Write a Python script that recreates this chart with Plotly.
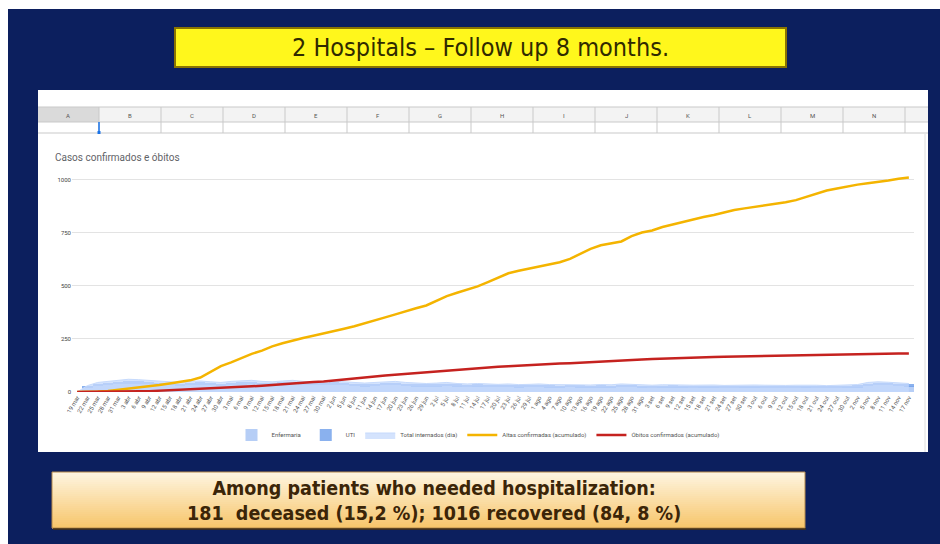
import plotly.graph_objects as go

# ---------------- data ----------------
dates = [
    "19 mar", "22 mar", "25 mar", "28 mar", "31 mar",
    "3 abr", "6 abr", "9 abr", "12 abr", "15 abr", "18 abr", "21 abr", "24 abr", "27 abr", "30 abr",
    "3 mai", "6 mai", "9 mai", "12 mai", "15 mai", "18 mai", "21 mai", "24 mai", "27 mai", "30 mai",
    "2 jun", "5 jun", "8 jun", "11 jun", "14 jun", "17 jun", "20 jun", "23 jun", "26 jun", "29 jun",
    "2 jul", "5 jul", "8 jul", "11 jul", "14 jul", "17 jul", "20 jul", "23 jul", "26 jul", "29 jul",
    "1 ago", "4 ago", "7 ago", "10 ago", "13 ago", "16 ago", "19 ago", "22 ago", "25 ago", "28 ago", "31 ago",
    "3 set", "6 set", "9 set", "12 set", "15 set", "18 set", "21 set", "24 set", "27 set", "30 set",
    "3 out", "6 out", "9 out", "12 out", "15 out", "18 out", "21 out", "24 out", "27 out", "30 out",
    "2 nov", "5 nov", "8 nov", "11 nov", "14 nov", "17 nov",
]

altas = [0, 0, 2, 5, 10, 15, 22, 28, 33, 40,
         48, 55, 68, 95, 122, 140, 160, 180, 195, 215,
         230, 243, 255, 265, 275, 285, 298, 310, 325, 338,
         352, 366, 382, 395, 408, 430, 452, 468, 482, 498,
         518, 540, 560, 572, 582, 590, 600, 612, 628, 650,
         675, 692, 700, 710, 735, 752, 762, 778, 790, 802,
         815, 825, 835, 848, 858, 866, 873, 880, 888, 895,
         905, 920, 938, 950, 960, 970, 978, 985, 990, 998,
         1006, 1012]

obitos = [0, 0, 0, 0, 1, 2, 3, 4, 6, 8,
          10, 12, 14, 16, 18, 21, 24, 27, 30, 34,
          38, 41, 44, 47, 50, 54, 58, 63, 68, 73,
          78, 82, 86, 90, 94, 98, 102, 106, 110, 113,
          116, 119, 122, 125, 127, 130, 132, 134, 136, 138,
          140, 142, 144, 147, 150, 153, 156, 158, 160, 161,
          162, 164, 165, 166, 167, 168, 170, 171, 172, 173,
          174, 174, 175, 176, 177, 177, 178, 178, 179, 180,
          181, 181]

total_internados = [0, 30, 45, 50, 55, 60, 58, 55, 50, 48,
                    45, 50, 52, 48, 45, 50, 52, 55, 50, 48,
                    52, 55, 50, 48, 50, 52, 48, 45, 42, 45,
                    48, 50, 45, 42, 40, 42, 45, 40, 38, 40,
                    38, 36, 38, 35, 36, 38, 35, 34, 36, 35,
                    33, 35, 34, 38, 36, 33, 32, 34, 35, 33,
                    32, 34, 33, 31, 32, 34, 33, 32, 30, 31,
                    32, 33, 32, 30, 31, 33, 35, 45, 48, 46,
                    44, 40]

enfermaria = [0, 20, 30, 33, 36, 40, 38, 36, 33, 32,
              30, 33, 34, 32, 30, 33, 34, 36, 33, 32,
              34, 36, 33, 32, 33, 34, 32, 30, 28, 30,
              32, 33, 30, 28, 27, 28, 30, 27, 25, 27,
              25, 24, 25, 23, 24, 25, 23, 23, 24, 23,
              22, 23, 23, 25, 24, 22, 21, 23, 23, 22,
              21, 23, 22, 21, 21, 23, 22, 21, 20, 21,
              21, 22, 21, 20, 21, 22, 23, 30, 32, 31,
              29, 27]

uti = [0, 6, 10, 11, 12, 13, 13, 12, 11, 10,
       10, 11, 11, 10, 10, 11, 11, 12, 11, 10,
       11, 12, 11, 10, 11, 11, 10, 10, 9, 10,
       10, 11, 10, 9, 9, 9, 10, 9, 8, 9,
       8, 8, 8, 8, 8, 8, 8, 7, 8, 8,
       7, 8, 7, 8, 8, 7, 7, 7, 8, 7,
       7, 7, 7, 7, 7, 7, 7, 7, 6, 7,
       7, 7, 7, 6, 7, 7, 8, 10, 11, 10,
       10, 9]

y_ticks = [0, 250, 500, 750, 1000]
col_letters = ["A", "B", "C", "D", "E", "F", "G", "H", "I", "J", "K", "L", "M", "N"]

title_text = "2 Hospitals \u2013 Follow up 8 months."
chart_title = "Casos confirmados e \u00f3bitos"
summary_lines = ["Among patients who needed hospitalization:",
                 "181  deceased (15,2 %); 1016 recovered (84, 8 %)"]

# ---------------- geometry helpers ----------------
W, H = 940, 544
L, R, T, B = 72, 914, 170, 392


def xp(px):
    return (px - L) / (R - L)


def yp(py):
    return (B - py) / (B - T)


NAVY = "#0c1f5e"

fig = go.Figure()

fig.add_trace(go.Bar(
    x=dates, y=enfermaria, marker=dict(color="#a4c2f4", line=dict(width=0)),
    name="Enfermaria", opacity=0.8, legendrank=1))
fig.add_trace(go.Bar(
    x=dates, y=uti, marker=dict(color="#6d9eeb", line=dict(width=0)),
    name="UTI", opacity=0.8, legendrank=2))
fig.add_trace(go.Scatter(
    x=dates, y=total_internados, mode="lines", fill="tozeroy",
    line=dict(color="#c6dafc", width=1), fillcolor="rgba(198,218,252,0.75)",
    name="Total internados (dia)", legendrank=3))
fig.add_trace(go.Scatter(
    x=dates, y=altas, mode="lines", line=dict(color="#f4b400", width=2.5),
    name="Altas confirmadas (acumulado)", legendrank=4))
fig.add_trace(go.Scatter(
    x=dates, y=obitos, mode="lines", line=dict(color="#c5221f", width=2.5),
    name="\u00d3bitos confirmados (acumulado)", legendrank=5))

shapes = []


def rect(x0, y0, x1, y1, fill, line_color=None, lw=0):
    shapes.append(dict(type="rect", xref="paper", yref="paper",
                       x0=xp(x0), x1=xp(x1), y0=yp(y1), y1=yp(y0),
                       fillcolor=fill, layer="below",
                       line=dict(color=line_color or fill, width=lw)))


def line(x0, y0, x1, y1, color, lw=1):
    shapes.append(dict(type="line", xref="paper", yref="paper",
                       x0=xp(x0), x1=xp(x1), y0=yp(y0), y1=yp(y1),
                       layer="below", line=dict(color=color, width=lw)))


# slide background
rect(8, 9, 940, 544, NAVY)
# yellow title box
rect(175, 28, 786, 67, "#fff71c", "#8a7400", 2)
# spreadsheet screenshot
rect(38, 90, 928, 452, "#ffffff")
rect(38, 107, 928, 122, "#f3f3f3")
rect(38, 107, 99, 122, "#dadada")
for yy in (107, 122, 133):
    line(38, yy, 928, yy, "#c9c9c9", 1)
for k in range(len(col_letters)):
    bx = 99 + 62 * k
    line(bx, 107, bx, 133, "#c9c9c9", 1)
line(99, 122, 99, 132, "#1a73e8", 1.5)
rect(97.5, 131, 100.5, 134, "#1a73e8")
line(925, 134, 925, 452, "#dedede", 1)

# bottom gradient box
bx0, bx1, by0, by1 = 52, 805, 472, 528
n = 28
top_c = (254, 245, 224)
bot_c = (247, 198, 108)
for i in range(n):
    t = i / (n - 1)
    c = tuple(int(round(top_c[j] + (bot_c[j] - top_c[j]) * t)) for j in range(3))
    y0 = by0 + (by1 - by0) * i / n
    y1 = by0 + (by1 - by0) * (i + 1) / n
    rect(bx0, y0, bx1, y1 + 0.5, "rgb(%d,%d,%d)" % c)
shapes.append(dict(type="rect", xref="paper", yref="paper",
                   x0=xp(bx0), x1=xp(bx1), y0=yp(by1), y1=yp(by0),
                   fillcolor="rgba(0,0,0,0)", layer="below",
                   line=dict(color="#b58a4a", width=1)))
line(bx0 + 1, by1 + 1, bx1 + 1, by1 + 1, "#4a3310", 1.5)

annotations = [
    dict(text=title_text, x=xp(480), y=yp(47), xref="paper", yref="paper",
         showarrow=False, xanchor="center", yanchor="middle",
         font=dict(family="DejaVu Sans Condensed, DejaVu Sans", size=25, color="#302a00")),
    dict(text=chart_title, x=xp(53), y=yp(157), xref="paper", yref="paper",
         showarrow=False, xanchor="left", yanchor="middle",
         font=dict(family="Roboto, Liberation Sans", size=10, color="#5f6368")),
    dict(text="<b>" + summary_lines[0] + "<br>" + summary_lines[1] + "</b>",
         x=xp(434), y=yp(501), xref="paper", yref="paper",
         showarrow=False, xanchor="center", yanchor="middle",
         font=dict(family="DejaVu Sans Condensed, DejaVu Sans", size=19.5, color="#3b2508")),
]
for k, letter in enumerate(col_letters):
    annotations.append(dict(text=letter, x=xp(68 + 62 * k), y=yp(115),
                            xref="paper", yref="paper", showarrow=False,
                            xanchor="center", yanchor="middle",
                            font=dict(family="Roboto, Liberation Sans", size=6, color="#555555")))

fig.update_layout(
    width=W, height=H,
    margin=dict(l=L, r=W - R, t=T, b=H - B, autoexpand=False),
    paper_bgcolor="#ffffff", plot_bgcolor="rgba(0,0,0,0)",
    barmode="stack", bargap=0,
    shapes=shapes, annotations=annotations,
    font=dict(family="Roboto, Liberation Sans", color="#555555"),
    showlegend=True,
    legend=dict(orientation="h", x=xp(478), xanchor="center", y=yp(435), yanchor="middle",
                traceorder="normal",
                font=dict(size=6, color="#555555"), itemwidth=30,
                bgcolor="rgba(0,0,0,0)"),
    xaxis=dict(type="category", range=[-0.5, len(dates) - 0.5],
               tickmode="array", tickvals=dates, ticktext=dates,
               tickangle=-60, tickfont=dict(size=6, color="#555555"),
               showgrid=False, showline=False, ticks="", zeroline=False),
    yaxis=dict(range=[0, 1047], tickvals=y_ticks, ticktext=[str(v) for v in y_ticks],
               tickfont=dict(size=6, color="#444444"), gridcolor="#e3e3e3",
               zeroline=False, showline=False, ticks=""),
)

fig.write_html("out.html", config={"displayModeBar": False},
               post_script="document.body.style.margin='0';document.body.style.overflow='hidden';")
